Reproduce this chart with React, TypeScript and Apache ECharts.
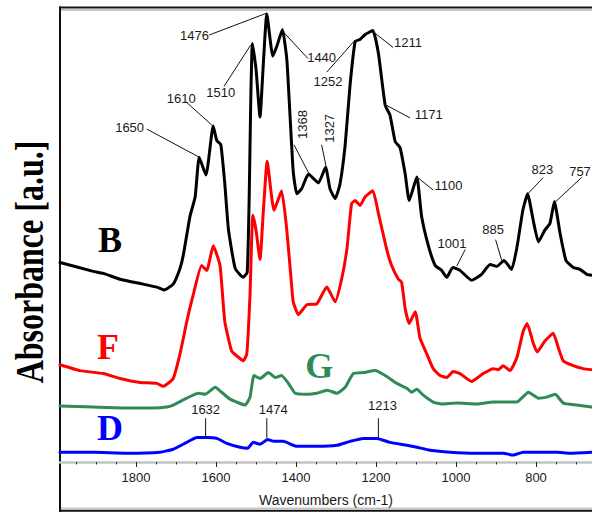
import React, { useEffect, useRef } from "react";
import * as echarts from "echarts";

// FTIR absorbance spectra, wavenumber (cm-1) vs absorbance (a.u., offset traces)
const spectrumB: [number, number][] = [
  [1990, 2.03], [1907, 1.94], [1882, 1.92], [1840, 1.86], [1782, 1.81], [1748, 1.78],
  [1730, 1.75], [1707, 1.81], [1690, 1.97], [1682, 2.1], [1665, 2.5], [1652, 2.7],
  [1642, 3.1], [1625, 2.92], [1607, 3.42], [1598, 3.27], [1588, 3.23], [1578, 2.83],
  [1569, 2.37], [1552, 1.97], [1532, 1.88], [1522, 1.93], [1517, 2.7], [1513, 3.7],
  [1509, 4.26], [1500, 4.0], [1490, 3.51], [1482, 4.03], [1473, 4.56], [1458, 4.13],
  [1448, 4.23], [1434, 4.4], [1423, 4.1], [1415, 3.53], [1407, 2.96], [1398, 2.73],
  [1386, 2.78], [1369, 2.93], [1344, 2.84], [1326, 3.0], [1315, 2.78], [1302, 2.68],
  [1290, 2.83], [1277, 3.23], [1265, 3.83], [1252, 4.28], [1240, 4.3], [1227, 4.35],
  [1208, 4.39], [1194, 4.16], [1177, 3.63], [1165, 3.53], [1152, 3.26], [1140, 3.2],
  [1127, 2.93], [1117, 2.66], [1098, 2.9], [1086, 2.5], [1069, 2.2], [1052, 2.0],
  [1036, 1.95], [1023, 1.88], [1008, 1.98], [990, 1.95], [961, 1.85], [936, 1.91],
  [915, 2.01], [898, 1.99], [880, 2.05], [861, 1.96], [847, 2.2], [833, 2.56],
  [821, 2.73], [807, 2.46], [794, 2.24], [778, 2.36], [765, 2.43], [754, 2.65],
  [740, 2.33], [725, 2.05], [707, 1.98], [690, 1.96], [673, 1.91], [660, 1.9],
];

const spectrumF: [number, number][] = [
  [1990, 0.99], [1940, 0.93], [1882, 0.9], [1840, 0.85], [1790, 0.81], [1748, 0.8],
  [1732, 0.77], [1707, 0.85], [1690, 1.1], [1673, 1.43], [1657, 1.7], [1636, 2.0],
  [1623, 1.95], [1607, 2.2], [1590, 2.0], [1578, 1.43], [1561, 1.13], [1548, 1.08],
  [1532, 1.03], [1523, 1.1], [1515, 1.7], [1508, 2.51], [1500, 2.36], [1490, 2.06],
  [1482, 2.53], [1472, 3.06], [1455, 2.56], [1436, 2.76], [1423, 2.36], [1411, 1.8],
  [1407, 1.63], [1394, 1.5], [1373, 1.6], [1348, 1.61], [1323, 1.78], [1302, 1.63],
  [1286, 1.86], [1273, 2.16], [1261, 2.63], [1252, 2.66], [1240, 2.61], [1227, 2.7],
  [1208, 2.76], [1194, 2.53], [1173, 2.16], [1161, 2.0], [1144, 1.86], [1136, 1.83],
  [1127, 1.56], [1117, 1.41], [1102, 1.53], [1090, 1.26], [1073, 1.1], [1057, 0.95],
  [1040, 0.88], [1023, 0.86], [1007, 0.92], [990, 0.9], [961, 0.82], [932, 0.9],
  [907, 0.95], [894, 0.94], [882, 0.98], [865, 0.93], [848, 1.06], [832, 1.33],
  [822, 1.41], [807, 1.21], [797, 1.12], [778, 1.23], [757, 1.31], [744, 1.16],
  [732, 1.03], [707, 0.98], [682, 0.95], [661, 0.94],
];

const spectrumG: [number, number][] = [
  [1990, 0.57], [1907, 0.56], [1823, 0.55], [1757, 0.55], [1723, 0.56], [1707, 0.58],
  [1673, 0.65], [1644, 0.7], [1627, 0.69], [1602, 0.76], [1586, 0.71], [1565, 0.64],
  [1527, 0.58], [1515, 0.66], [1505, 0.88], [1490, 0.85], [1469, 0.91], [1452, 0.86],
  [1436, 0.88], [1419, 0.8], [1402, 0.7], [1373, 0.69], [1348, 0.7], [1322, 0.73],
  [1298, 0.7], [1277, 0.76], [1257, 0.9], [1232, 0.91], [1202, 0.93], [1177, 0.88],
  [1148, 0.8], [1123, 0.75], [1111, 0.71], [1098, 0.74], [1082, 0.68], [1057, 0.61],
  [1036, 0.59], [998, 0.6], [948, 0.59], [907, 0.61], [848, 0.61], [819, 0.71],
  [794, 0.65], [773, 0.66], [752, 0.69], [732, 0.6], [698, 0.58], [661, 0.56],
];

const spectrumD: [number, number][] = [
  [1990, 0.1], [1907, 0.1], [1823, 0.09], [1740, 0.1], [1707, 0.13], [1673, 0.2],
  [1648, 0.25], [1623, 0.25], [1598, 0.24], [1573, 0.19], [1540, 0.15], [1521, 0.14],
  [1507, 0.2], [1490, 0.18], [1471, 0.23], [1455, 0.21], [1432, 0.21], [1398, 0.16],
  [1348, 0.16], [1298, 0.17], [1265, 0.21], [1232, 0.24], [1198, 0.24], [1165, 0.2],
  [1123, 0.17], [1098, 0.15], [1065, 0.12], [1015, 0.1], [948, 0.09], [882, 0.09],
  [857, 0.07], [832, 0.1], [782, 0.1], [748, 0.1], [715, 0.09], [661, 0.1],
];

const seriesNames = ["B", "F", "G", "D"];
const seriesColors = ["#000000", "#ff0000", "#2e8b57", "#0000ff"];
// where each trace's letter sits, in (wavenumber, absorbance)
const seriesLetterAt: [number, number][] = [
  [1865, 2.255], [1870, 1.175], [1342, 0.975], [1865, 0.345],
];

// peak annotations: label, text anchor, leader line start and end
const peakLabels = [
  "1476", "1440", "1510", "1610", "1650", "1368", "1327", "1252", "1211",
  "1171", "1100", "1001", "885", "823", "757", "1632", "1474", "1213",
];
const peakTextAt: [number, number][] = [
  [1654, 4.345], [1336, 4.12], [1588, 3.765], [1687, 3.695], [1816, 3.405],
  [1384, 3.435], [1316, 3.395], [1320, 3.87], [1120, 4.265], [1068, 3.535],
  [1019, 2.81], [1010, 2.228], [907, 2.362], [784, 2.975], [690, 2.958],
  [1626, 0.535], [1457, 0.535], [1184, 0.578],
];
const leaderFrom: [number, number][] = [
  [1617, 4.345], [1432, 4.378], [1580, 3.822], [1675, 3.665], [1773, 3.388],
  [1405, 3.228], [1336, 3.228], [1323, 3.968], [1207, 4.378], [1173, 3.628],
  [1096, 2.895], [977, 2.162], [901, 2.262], [782, 2.895], [686, 2.895],
  [1626, 0.445], [1473, 0.445], [1194, 0.445],
];
const leaderTo: [number, number][] = [
  [1473, 4.568], [1370, 4.105], [1513, 4.245], [1608, 3.42], [1642, 3.102],
  [1369, 2.945], [1325, 3.012], [1252, 4.295], [1157, 4.218], [1115, 3.502],
  [1057, 2.768], [998, 1.995], [886, 2.055], [819, 2.735], [752, 2.645],
  [1626, 0.245], [1473, 0.245], [1194, 0.245],
];
const verticalLabels = ["1368", "1327"];

const majorTicks = [1800, 1600, 1400, 1200, 1000, 800];
const minorTicks = [
  1950, 1900, 1850, 1750, 1700, 1650, 1550, 1500, 1450, 1350, 1300, 1250,
  1150, 1100, 1050, 950, 900, 850, 750, 700,
];

const SANS = '"Liberation Sans", Arial, sans-serif';
const SERIF = '"Liberation Serif", "Times New Roman", serif';

export default function App() {
  const ref = useRef<HTMLDivElement>(null);

  useEffect(() => {
    if (!ref.current) return;
    const chart = echarts.init(ref.current, null, { renderer: "svg" });

    const spectra = [spectrumB, spectrumF, spectrumG, spectrumD];
    const xRange = { min: 660, max: 1990, inverse: true };

    const lineSeries = spectra.map((d, i) => ({
      type: "line",
      name: seriesNames[i],
      data: d,
      xAxisIndex: 0,
      showSymbol: false,
      smooth: 0.15,
      lineStyle: { color: seriesColors[i], width: 3, join: "round", cap: "round" },
      z: 10 - i,
      silent: true,
    }));

    const annotationData = peakLabels.map((_, i) => [
      peakTextAt[i][0], peakTextAt[i][1],
      leaderFrom[i][0], leaderFrom[i][1],
      leaderTo[i][0], leaderTo[i][1],
    ]);

    const option = {
      animation: false,
      grid: { left: 60, right: 0, top: 8, bottom: 42, containLabel: false },
      xAxis: [
        {
          type: "value",
          ...xRange,
          axisLine: { show: true, onZero: false, lineStyle: { color: "#c4c4c4", width: 2.5 } },
          axisTick: {
            show: true,
            length: 5,
            customValues: majorTicks,
            lineStyle: { color: "#222", width: 1 },
          },
          axisLabel: {
            customValues: majorTicks,
            formatter: (v: number) => String(v),
            color: "#1a1a1a",
            fontSize: 13,
            fontFamily: SANS,
            margin: 9,
          },
          splitLine: { show: false },
          name: "Wavenumbers (cm-1)",
          nameLocation: "middle",
          nameGap: 31,
          nameTextStyle: { color: "#1a1a1a", fontSize: 14, fontFamily: SANS },
        },
        {
          type: "value",
          ...xRange,
          position: "bottom",
          axisLine: { show: false },
          axisTick: {
            show: true,
            length: 2.5,
            customValues: minorTicks,
            lineStyle: { color: "#333", width: 1 },
          },
          axisLabel: { show: false },
          splitLine: { show: false },
        },
      ],
      yAxis: { type: "value", min: 0, max: 4.62, show: false },
      series: [
        ...lineSeries,
        {
          type: "custom",
          name: "peaks",
          coordinateSystem: "cartesian2d",
          xAxisIndex: 0,
          silent: true,
          clip: false,
          z: 20,
          encode: { x: 0, y: 1 },
          data: annotationData,
          renderItem: (params: any, api: any) => {
            const i = params.dataIndex;
            const t = api.coord([api.value(0), api.value(1)]);
            const a = api.coord([api.value(2), api.value(3)]);
            const b = api.coord([api.value(4), api.value(5)]);
            const label = peakLabels[i];
            return {
              type: "group",
              children: [
                {
                  type: "line",
                  shape: { x1: a[0], y1: a[1], x2: b[0], y2: b[1] },
                  style: { stroke: "#111", lineWidth: 1 },
                },
                {
                  type: "text",
                  x: t[0],
                  y: t[1],
                  rotation: verticalLabels.includes(label) ? Math.PI / 2 : 0,
                  style: {
                    text: label,
                    fill: "#1a1a1a",
                    font: `13px ${SANS}`,
                    align: "center",
                    verticalAlign: "middle",
                    textAlign: "center",
                    textVerticalAlign: "middle",
                  },
                },
              ],
            };
          },
        },
        {
          type: "custom",
          name: "letters",
          coordinateSystem: "cartesian2d",
          xAxisIndex: 0,
          silent: true,
          clip: false,
          z: 20,
          encode: { x: 0, y: 1 },
          data: seriesLetterAt,
          renderItem: (params: any, api: any) => {
            const i = params.dataIndex;
            const p = api.coord([api.value(0), api.value(1)]);
            return {
              type: "text",
              x: p[0],
              y: p[1],
              style: {
                text: seriesNames[i],
                fill: seriesColors[i],
                font: `bold 36px ${SERIF}`,
                align: "center",
                verticalAlign: "middle",
                textAlign: "center",
                textVerticalAlign: "middle",
              },
            };
          },
        },
      ],
      graphic: [
        // outer frame with its grey inner shading
        { type: "line", shape: { x1: 60, y1: 10, x2: 592, y2: 10 }, style: { stroke: "#c6c6c6", lineWidth: 2 }, silent: true },
        { type: "line", shape: { x1: 59, y1: 7.5, x2: 592, y2: 7.5 }, style: { stroke: "#111", lineWidth: 2 }, silent: true },
        { type: "line", shape: { x1: 60, y1: 508.3, x2: 592, y2: 508.3 }, style: { stroke: "#c6c6c6", lineWidth: 1.6 }, silent: true },
        { type: "line", shape: { x1: 59, y1: 510.7, x2: 592, y2: 510.7 }, style: { stroke: "#111", lineWidth: 2 }, silent: true },
        { type: "line", shape: { x1: 60, y1: 6.5, x2: 60, y2: 512 }, style: { stroke: "#111", lineWidth: 2 }, silent: true },
        {
          type: "text",
          x: 30,
          y: 262,
          rotation: Math.PI / 2,
          scaleY: 1.25,
          silent: true,
          style: {
            text: "Absorbance [a.u.]",
            fill: "#000",
            font: `bold 32px ${SERIF}`,
            align: "center",
            verticalAlign: "middle",
            textAlign: "center",
            textVerticalAlign: "middle",
          },
        },
      ],
    };

    chart.setOption(option as any);
    return () => chart.dispose();
  }, []);

  return <div ref={ref} style={{ width: 592, height: 512, position: "absolute", left: 0, top: 0 }} />;
}
